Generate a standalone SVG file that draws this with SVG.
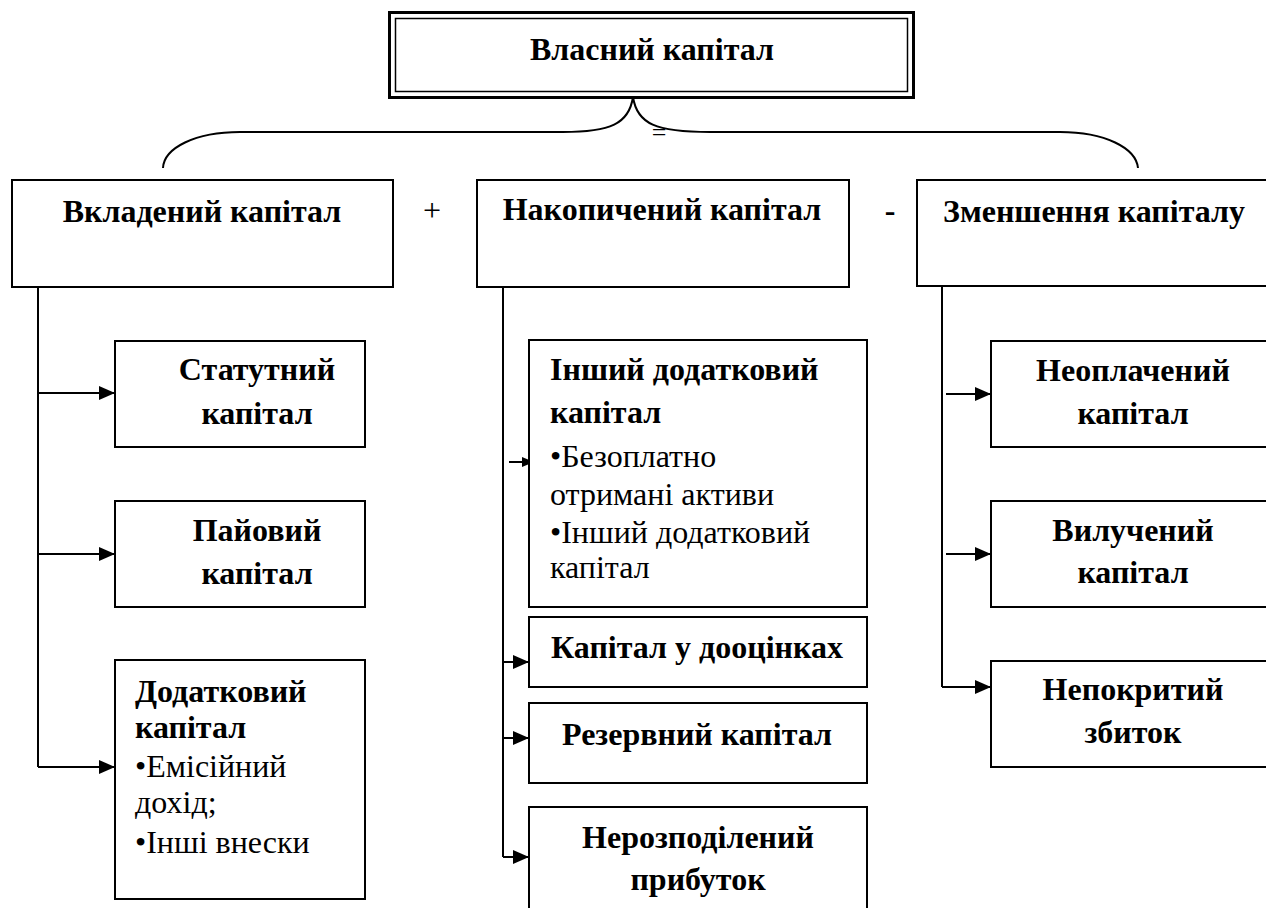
<svg xmlns="http://www.w3.org/2000/svg" width="1266" height="908" viewBox="0 0 1266 908" font-family="'Liberation Serif', 'DejaVu Serif', serif">
<style>
.box{fill:#fff;stroke:#000;stroke-width:2}
.t{font-family:'Liberation Serif','DejaVu Serif',serif;font-size:32px;fill:#000}
.b{font-weight:bold}
.c{text-anchor:middle}
.ln{fill:none;stroke:#000;stroke-width:2}
</style>
<defs>
<marker id="ah" markerWidth="16" markerHeight="14" refX="16" refY="7" orient="auto" markerUnits="userSpaceOnUse">
<path d="M0,0 L16,7 L0,14 Z" fill="#000"/>
</marker>
<marker id="ahs" markerWidth="12" markerHeight="10" refX="12" refY="5" orient="auto" markerUnits="userSpaceOnUse">
<path d="M0,0 L12,5 L0,10 Z" fill="#000"/>
</marker>
</defs>
<rect width="1266" height="908" fill="#fff"/>

<g id="connectors">
<path class="ln" d="M633,97 C629,124 610,132 563,132 L240,132 C195,132 164,148 163,168"/>
<path class="ln" d="M633,97 C637,124 656,132 710,132 L1060,132 C1105,132 1136,148 1138,168"/>
<text class="t" x="659" y="141" text-anchor="middle" style="font-size:26px">=</text>
<path class="ln" d="M38,287 V767"/>
<line class="ln" x1="38" y1="393" x2="115" y2="393" marker-end="url(#ah)"/>
<line class="ln" x1="38" y1="554" x2="115" y2="554" marker-end="url(#ah)"/>
<line class="ln" x1="38" y1="767" x2="115" y2="767" marker-end="url(#ah)"/>
<path class="ln" d="M503,287 V857"/>
<line class="ln" x1="509" y1="462" x2="534" y2="462" marker-end="url(#ahs)"/>
<line class="ln" x1="503" y1="662" x2="529" y2="662" marker-end="url(#ah)"/>
<line class="ln" x1="503" y1="738" x2="529" y2="738" marker-end="url(#ah)"/>
<line class="ln" x1="503" y1="857" x2="529" y2="857" marker-end="url(#ah)"/>
<path class="ln" d="M942,287 V687"/>
<line class="ln" x1="946" y1="394" x2="991" y2="394" marker-end="url(#ah)"/>
<line class="ln" x1="946" y1="554" x2="991" y2="554" marker-end="url(#ah)"/>
<line class="ln" x1="942" y1="687" x2="991" y2="687" marker-end="url(#ah)"/>
</g>

<g id="n-vlasnyi">
<rect x="389.5" y="12.5" width="524" height="85" fill="#fff" stroke="#000" stroke-width="3"/>
<rect x="395.5" y="18.5" width="512" height="73" fill="none" stroke="#000" stroke-width="1.5"/>
<text class="t b c" x="652" y="60">Власний капітал</text>
</g>

<g id="n-vkladenyi">
<rect class="box" x="12" y="180" width="381" height="107"/>
<text class="t b c" x="202" y="222">Вкладений капітал</text>
</g>
<text class="t c" x="432" y="221">+</text>

<g id="n-nakopychenyi">
<rect class="box" x="477" y="180" width="372" height="107"/>
<text class="t b c" x="662" y="220">Накопичений капітал</text>
</g>
<text class="t b c" x="890" y="221">-</text>

<g id="n-zmenshennia">
<rect class="box" x="917" y="180" width="360" height="106"/>
<text class="t b c" x="1094" y="222">Зменшення капіталу</text>
</g>

<g id="n-statutnyi">
<rect class="box" x="115" y="341" width="250" height="106"/>
<text class="t b c" x="257" y="380">Статутний</text>
<text class="t b c" x="257" y="424">капітал</text>
</g>

<g id="n-paiovyi">
<rect class="box" x="115" y="501" width="250" height="106"/>
<text class="t b c" x="257" y="541">Пайовий</text>
<text class="t b c" x="257" y="584">капітал</text>
</g>

<g id="n-dodatkovyi">
<rect class="box" x="115" y="660" width="250" height="239"/>
<text class="t b" x="135" y="702">Додатковий</text>
<text class="t b" x="135" y="738">капітал</text>
<text class="t" x="135" y="777">•Емісійний</text>
<text class="t" x="135" y="813">дохід;</text>
<text class="t" x="135" y="853">•Інші внески</text>
</g>

<g id="n-inshyi">
<rect class="box" x="529" y="340" width="338" height="267"/>
<text class="t b" x="550" y="380">Інший додатковий</text>
<text class="t b" x="550" y="423">капітал</text>
<text class="t" x="550" y="467">•Безоплатно</text>
<text class="t" x="550" y="505">отримані активи</text>
<text class="t" x="550" y="543">•Інший додатковий</text>
<text class="t" x="550" y="578">капітал</text>
</g>

<g id="n-doocinky">
<rect class="box" x="529" y="617" width="338" height="70"/>
<text class="t b c" x="697" y="658">Капітал у дооцінках</text>
</g>

<g id="n-rezervnyi">
<rect class="box" x="529" y="703" width="338" height="80"/>
<text class="t b c" x="697" y="745">Резервний капітал</text>
</g>

<g id="n-nerozpodilenyi">
<rect class="box" x="529" y="807" width="338" height="120"/>
<text class="t b c" x="698" y="848">Нерозподілений</text>
<text class="t b c" x="698" y="890">прибуток</text>
</g>

<g id="n-neoplachenyi">
<rect class="box" x="991" y="341" width="290" height="106"/>
<text class="t b c" x="1133" y="381">Неоплачений</text>
<text class="t b c" x="1133" y="424">капітал</text>
</g>

<g id="n-vyluchenyi">
<rect class="box" x="991" y="501" width="290" height="106"/>
<text class="t b c" x="1133" y="541">Вилучений</text>
<text class="t b c" x="1133" y="583">капітал</text>
</g>

<g id="n-nepokrytyi">
<rect class="box" x="991" y="661" width="290" height="106"/>
<text class="t b c" x="1133" y="700">Непокритий</text>
<text class="t b c" x="1133" y="743">збиток</text>
</g>
</svg>
